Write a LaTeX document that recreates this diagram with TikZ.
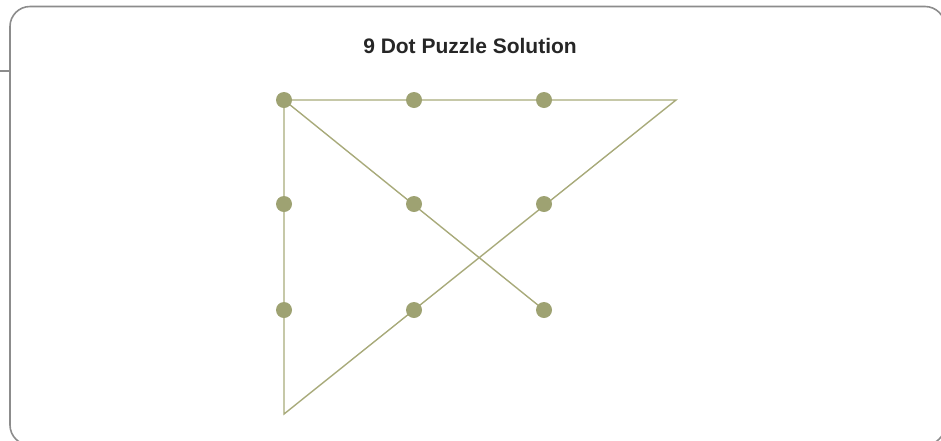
\documentclass[tikz,border=0pt]{standalone}
\usepackage{fontspec}
\setmainfont{Liberation Sans}
\definecolor{frame}{RGB}{140,140,140}
\definecolor{dotc}{RGB}{158,162,114}
\definecolor{linec}{RGB}{168,170,122}
\begin{document}
\begin{tikzpicture}[x=1pt,y=-1pt,
  dotstyle/.style={circle,fill=dotc,minimum size=16pt,inner sep=0pt},
  pathline/.style={draw=linec,line width=1.4pt},
  framestyle/.style={draw=frame,line width=1.6pt}]
\useasboundingbox (0,0) rectangle (941,440);
\begin{scope}
\clip (0,0) rectangle (941,440);
\draw[framestyle,rounded corners=20pt] (10,6.5) rectangle (945,445);
\end{scope}
\coordinate (tabL) at (0,71);
\coordinate (tabR) at (10,71);
\draw[framestyle] (tabL) -- (tabR);
\node[font=\bfseries\fontsize{21}{24}\selectfont,text=black!85] (title) at (470,45.5) {9 Dot Puzzle Solution};
\coordinate (apex) at (676,100);
\coordinate (bottom) at (284,414);
\foreach \r/\y in {1/100,2/204,3/310}{
  \foreach \c/\x in {1/284,2/414,3/544}{
    \coordinate (p\r\c) at (\x,\y);
  }
}
\draw[pathline,line join=miter] (p33) -- (p11) -- (apex) -- (bottom) -- (p11);
\foreach \r in {1,2,3}{
  \foreach \c in {1,2,3}{
    \node[dotstyle] (d\r\c) at (p\r\c) {};
  }
}
\end{tikzpicture}
\end{document}
